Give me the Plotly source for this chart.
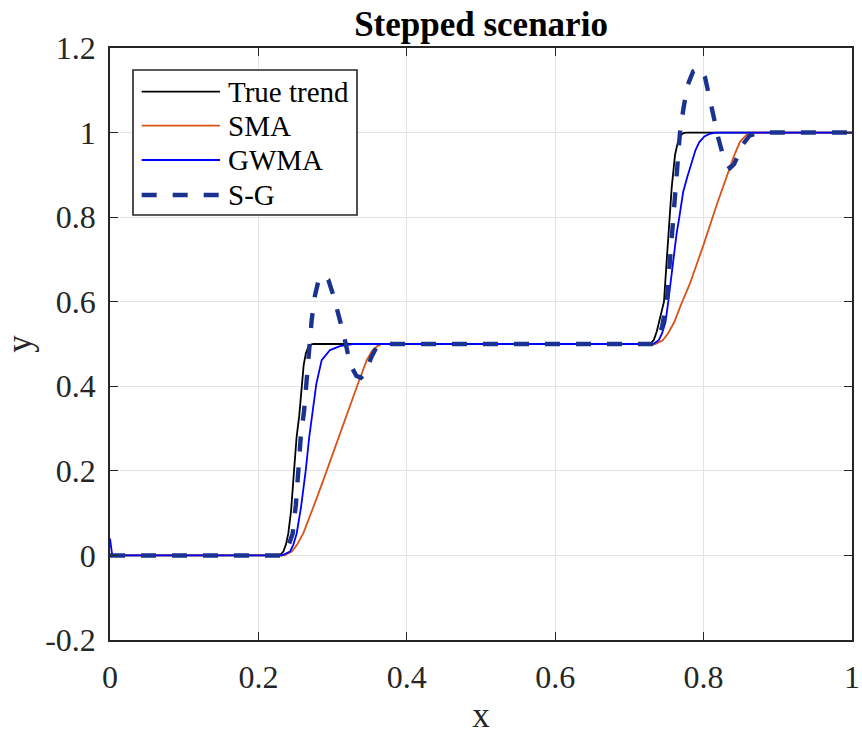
import plotly.graph_objects as go

# ---- data ----
true_x = [0.0, 0.229, 0.2336, 0.237, 0.2403, 0.244, 0.248, 0.2515, 0.255, 0.258, 0.261,
          0.264, 0.267, 0.270, 0.274,
          0.728, 0.733, 0.737, 0.741, 0.7466, 0.750, 0.7538, 0.757, 0.7615, 0.765, 0.769,
          0.7727, 0.777, 1.0]
true_y = [0.0, 0.0, 0.009, 0.025, 0.052, 0.105, 0.200, 0.280, 0.330, 0.400, 0.450,
          0.478, 0.492, 0.498, 0.500,
          0.500, 0.510, 0.530, 0.560, 0.600, 0.690, 0.800, 0.870, 0.947, 0.975, 0.993,
          0.999, 1.000, 1.000]

sma_x = [0.0, 0.235, 0.2449, 0.252, 0.2605, 0.270, 0.280, 0.292, 0.300, 0.310, 0.3199,
         0.3257, 0.335, 0.346, 0.353, 0.3603, 0.366,
         0.735, 0.745, 0.752, 0.7605, 0.770, 0.7817, 0.792, 0.800, 0.8176, 0.8333,
         0.841, 0.849, 0.858, 0.865, 1.0]
sma_y = [0.0, 0.0, 0.009, 0.025, 0.052, 0.095, 0.142, 0.200, 0.240, 0.288, 0.336,
         0.3675, 0.410, 0.462, 0.483, 0.495, 0.500,
         0.500, 0.509, 0.525, 0.552, 0.595, 0.6435, 0.695, 0.735, 0.8287, 0.907,
         0.945, 0.978, 0.995, 1.000, 1.000]

gwma_x = [0.0, 0.003, 0.232, 0.2426, 0.247, 0.2516, 0.2575, 0.2637, 0.2685, 0.2732,
          0.278, 0.2853, 0.2965, 0.310, 0.3275,
          0.732, 0.7396, 0.744, 0.7486, 0.7524, 0.7585, 0.7635, 0.7673, 0.7725, 0.778,
          0.784, 0.789, 0.794, 0.801, 0.808, 0.816, 1.0]
gwma_y = [0.04, 0.0, 0.0, 0.009, 0.025, 0.052, 0.115, 0.200, 0.280, 0.344,
          0.405, 0.462, 0.4857, 0.495, 0.500,
          0.500, 0.509, 0.525, 0.552, 0.600, 0.695, 0.760, 0.800, 0.860, 0.895,
          0.930, 0.958, 0.977, 0.991, 0.997, 1.000, 1.000]

sg_x = [0.0, 0.230, 0.238, 0.2462, 0.2505, 0.2538, 0.2575, 0.2615, 0.2645, 0.2673,
        0.2686, 0.2718, 0.2763, 0.2807, 0.2875, 0.2942, 0.301, 0.308, 0.3145, 0.3205,
        0.3257, 0.332, 0.338, 0.344, 0.352, 0.360, 0.370, 0.380,
        0.730, 0.738, 0.744, 0.7503, 0.7548, 0.7592, 0.764, 0.7682, 0.7727, 0.778,
        0.786, 0.795, 0.802, 0.8086, 0.8145, 0.8194, 0.8255, 0.8315, 0.8356, 0.841,
        0.847, 0.853, 0.862, 0.875, 1.0]
sg_y = [0.0, 0.0, 0.010, 0.052, 0.120, 0.200, 0.290, 0.340, 0.400, 0.462,
        0.500, 0.557, 0.615, 0.648, 0.663, 0.652, 0.615, 0.570, 0.525, 0.478,
        0.445, 0.425, 0.420, 0.430, 0.468, 0.495, 0.502, 0.500,
        0.500, 0.510, 0.540, 0.600, 0.700, 0.800, 0.900, 1.000, 1.055, 1.110,
        1.145, 1.153, 1.130, 1.070, 1.030, 0.990, 0.950, 0.925, 0.916, 0.925,
        0.950, 0.972, 0.993, 1.000, 1.000]

series_names = ["True trend", "SMA", "GWMA", "S-G"]
x_ticks = [0, 0.2, 0.4, 0.6, 0.8, 1]
x_tick_labels = ["0", "0.2", "0.4", "0.6", "0.8", "1"]
y_ticks = [-0.2, 0, 0.2, 0.4, 0.6, 0.8, 1.0, 1.2]
y_tick_labels = ["-0.2", "0", "0.2", "0.4", "0.6", "0.8", "1", "1.2"]

# ---- styles ----
colors = ["#000000", "#D95319", "#0000FF", "#1B3390"]
widths = [1.8, 1.8, 1.8, 4.4]
dashes = ["solid", "solid", "solid", "15px,16px"]
FONT = "Liberation Serif, Times New Roman, serif"
AX = "#262626"

fig = go.Figure()
for xs, ys, name, c, w, d in zip([true_x, sma_x, gwma_x, sg_x],
                                 [true_y, sma_y, gwma_y, sg_y],
                                 series_names, colors, widths, dashes):
    fig.add_trace(go.Scatter(x=xs, y=ys, mode="lines", name=name,
                             line=dict(color=c, width=w, dash=d),
                             showlegend=False))

# manual MATLAB-style legend (paper coordinates)
box = dict(x0=0.031, x1=0.3329, y0=0.7179, y1=0.9628)
fig.add_shape(type="rect", xref="paper", yref="paper", **box,
              line=dict(color=AX, width=1.6), fillcolor="white", layer="above")
rows = [0.9262, 0.8688, 0.8108, 0.7517]
for r, name, c, w, d in zip(rows, series_names, colors, widths, dashes):
    fig.add_shape(type="line", xref="paper", yref="paper",
                  x0=0.0427, x1=0.1482, y0=r, y1=r, layer="above",
                  line=dict(color=c, width=w, dash=d))
    fig.add_annotation(xref="paper", yref="paper", x=0.156, y=r, text=name,
                       showarrow=False, xanchor="left", yanchor="middle",
                       font=dict(family=FONT, size=29, color="#000000"))

axis_common = dict(showline=True, linecolor=AX, linewidth=1.6, mirror="ticks",
                   ticks="inside", ticklen=8, tickwidth=1.3, tickcolor=AX,
                   showgrid=True, gridcolor="#E3E3E3", gridwidth=1,
                   zeroline=False, automargin=False,
                   tickfont=dict(family=FONT, size=32, color=AX))

fig.update_layout(
    width=862, height=736,
    margin=dict(l=110, r=10, t=48, b=96, autoexpand=False),
    paper_bgcolor="white", plot_bgcolor="white",
    title=dict(text="<b>Stepped scenario</b>", x=0.5, xanchor="center",
               xref="paper", y=0.968, yanchor="middle",
               font=dict(family=FONT, size=35, color="#000000")),
    xaxis=dict(range=[0, 1], tickvals=x_ticks, ticktext=x_tick_labels,
               title=dict(text="x", font=dict(family=FONT, size=35, color=AX),
                          standoff=8),
               ticklabelstandoff=8, **axis_common),
    yaxis=dict(range=[-0.2, 1.2], tickvals=y_ticks, ticktext=y_tick_labels,
               title=dict(text="y", font=dict(family=FONT, size=35, color=AX),
                          standoff=6),
               ticklabelstandoff=6, **axis_common),
)

fig.write_html("out.html", config={"displayModeBar": False},
               post_script="document.body.style.margin='0';document.body.style.overflow='hidden';")
